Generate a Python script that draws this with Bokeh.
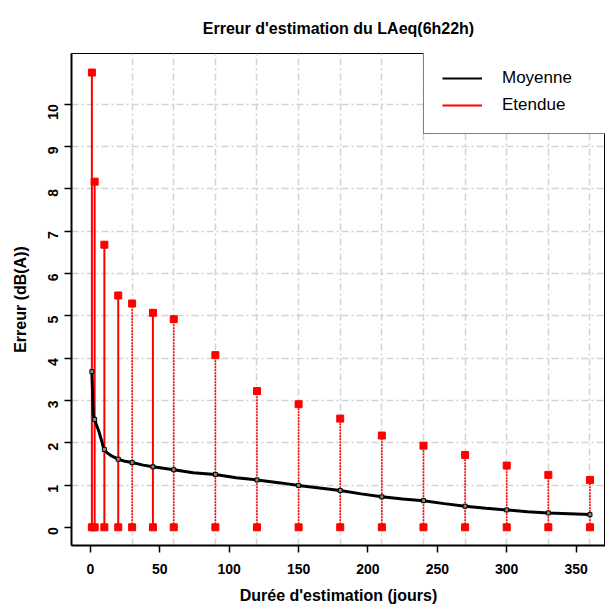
import math
from bokeh.plotting import figure
from bokeh.models import Range1d, FixedTicker, Legend, LegendItem
from bokeh.embed import file_html
from bokeh.resources import INLINE

# ---- data ----
mean_days = [1, 2, 3, 4, 6, 8, 9, 10, 12, 15, 17, 20, 25, 30, 38, 45, 50, 60, 74, 90,
             105, 120, 137, 150, 165, 180, 195, 210, 225, 240, 255, 270, 285, 300,
             315, 330, 345, 360]
mean_vals = [3.68, 2.66, 2.55, 2.45, 2.27, 2.05, 1.92, 1.84, 1.76, 1.69, 1.66, 1.61,
             1.56, 1.53, 1.47, 1.43, 1.41, 1.36, 1.29, 1.25, 1.17, 1.12, 1.05, 0.99,
             0.93, 0.87, 0.79, 0.72, 0.67, 0.63, 0.56, 0.50, 0.45, 0.41, 0.37, 0.34,
             0.32, 0.30]

stem_days = [1, 3, 10, 20, 30, 45, 60, 90, 120, 150, 180, 210, 240, 270, 300, 330, 360]
stem_min = [0] * len(stem_days)
stem_max = [10.75, 8.17, 6.68, 5.48, 5.29, 5.07, 4.92, 4.07, 3.22, 2.91, 2.57, 2.17,
            1.93, 1.71, 1.46, 1.24, 1.12]
dotted_days = [30, 60, 90, 120, 150, 180, 210, 240, 270, 300, 330, 360]

x_ticks = [0, 50, 100, 150, 200, 250, 300, 350]
y_ticks = [0, 1, 2, 3, 4, 5, 6, 7, 8, 9, 10]
grid_x = [30, 60, 90, 120, 150, 180, 210, 240, 270, 300, 330, 360]
grid_y = [1, 2, 3, 4, 5, 6, 7, 8, 9, 10]

title_text = "Erreur d'estimation du LAeq(6h22h)"
x_label = "Durée d'estimation (jours)"
y_label = "Erreur (dB(A))"
legend_labels = ["Moyenne", "Etendue"]

FONT = "Liberation Sans"

p = figure(width=605, height=608, output_backend="svg", toolbar_location=None,
           x_range=Range1d(-13.69, 371.2), y_range=Range1d(-0.43, 11.2),
           min_border_left=71, min_border_right=0, min_border_top=51,
           min_border_bottom=63)
p.background_fill_color = "white"
p.border_fill_color = "white"
p.outline_line_color = "black"
p.outline_line_width = 1

# title
p.title.text = title_text
p.title.align = "center"
p.title.text_font = FONT
p.title.text_font_size = "16px"
p.title.text_font_style = "bold"
p.title.text_color = "black"
p.title.standoff = 34

# grid
p.xgrid.ticker = FixedTicker(ticks=grid_x)
p.ygrid.ticker = FixedTicker(ticks=grid_y)
for g in (p.xgrid, p.ygrid):
    g.grid_line_color = "#d3d3d3"
    g.grid_line_width = 1.5
    g.grid_line_dash = "7 3 2 3"

# axes
p.xaxis.ticker = FixedTicker(ticks=x_ticks)
p.yaxis.ticker = FixedTicker(ticks=y_ticks)
p.yaxis.major_label_orientation = math.pi / 2
for ax in (p.xaxis, p.yaxis):
    ax.axis_line_color = "black"
    ax.axis_line_width = 2
    ax.major_tick_in = 0
    ax.major_tick_out = 7
    ax.major_tick_line_width = 1.5
    ax.minor_tick_line_color = None
    ax.major_label_text_font = FONT
    ax.major_label_text_font_size = "14px"
    ax.major_label_text_font_style = "bold"
    ax.major_label_text_color = "black"
    ax.axis_label_text_font = FONT
    ax.axis_label_text_font_size = "16px"
    ax.axis_label_text_font_style = "bold"
    ax.axis_label_text_color = "black"
p.xaxis.axis_label = x_label
p.yaxis.axis_label = y_label
p.xaxis.major_label_standoff = 11
p.xaxis.axis_label_standoff = 10
p.yaxis.major_label_standoff = 11
p.yaxis.axis_label_standoff = 12

# stems (range)
solid_x = [d for d in stem_days if d not in dotted_days]
solid_top = [m for d, m in zip(stem_days, stem_max) if d not in dotted_days]
dot_x = [d for d in stem_days if d in dotted_days]
dot_top = [m for d, m in zip(stem_days, stem_max) if d in dotted_days]

r_solid = p.segment(x0=solid_x, y0=[0] * len(solid_x), x1=solid_x, y1=solid_top,
                    line_color="red", line_width=2)
p.segment(x0=dot_x, y0=[0] * len(dot_x), x1=dot_x, y1=dot_top,
          line_color="red", line_width=1.6, line_dash="2 1")
p.scatter(stem_days, stem_min, marker="square", size=7, fill_color="red", line_color="red")
p.scatter(stem_days, stem_max, marker="square", size=7, fill_color="red", line_color="red")

# mean curve
r_mean = p.line(mean_days, mean_vals, line_color="black", line_width=3)
mk_x = [d for d in mean_days if d in stem_days]
mk_y = [v for d, v in zip(mean_days, mean_vals) if d in stem_days]
p.scatter(mk_x, mk_y, marker="square", size=4, fill_color="#888888", line_color="black",
          line_width=1)

# legend keys (line samples of width 2, drawn only in the legend)
r_key_m = p.line([float("nan")], [float("nan")], line_color="black", line_width=2)
r_key_e = p.line([float("nan")], [float("nan")], line_color="red", line_width=2)

legend = Legend(items=[LegendItem(label=legend_labels[0], renderers=[r_key_m]),
                       LegendItem(label=legend_labels[1], renderers=[r_key_e])],
                location=(352, 411), orientation="vertical")
legend.margin = 0
legend.padding = 18
legend.spacing = 7
legend.glyph_width = 40
legend.glyph_height = 20
legend.label_standoff = 20
legend.label_width = 110
legend.label_height = 20
legend.label_text_font = FONT
legend.label_text_font_size = "17px"
legend.label_text_color = "black"
legend.border_line_color = "black"
legend.border_line_width = 1
legend.background_fill_color = "white"
legend.background_fill_alpha = 1.0
p.add_layout(legend)

open("out.html", "w").write(file_html(p, INLINE))
